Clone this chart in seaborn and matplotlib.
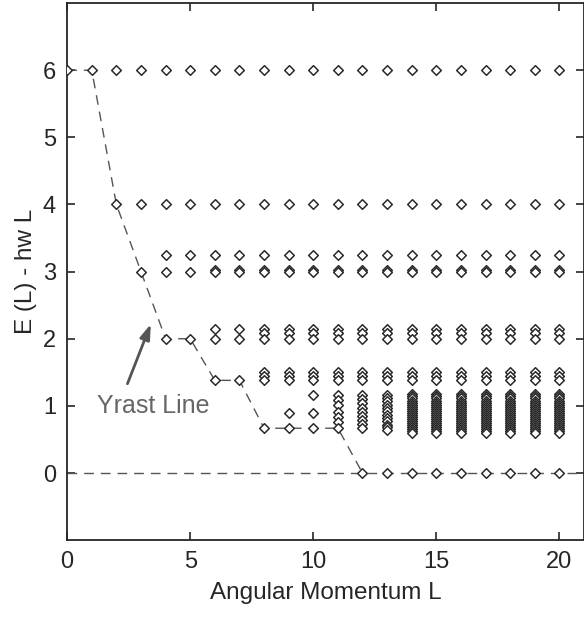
import numpy as np
import pandas as pd
import matplotlib
matplotlib.use("Agg")
import matplotlib.pyplot as plt
import seaborn as sns

# --- datos: niveles de energía por momento angular L ---
medio = [6.0, 4.0, 3.25, 3.02, 3.0, 2.15, 2.08, 2.0, 1.5, 1.45, 1.38]
denso = [1.17, 1.14, 1.11, 1.08, 1.05, 1.02, 0.99, 0.96, 0.93, 0.9,
         0.87, 0.84, 0.81, 0.78, 0.75, 0.72, 0.69, 0.66, 0.63, 0.6]

niveles = {
    0: [6.0],
    1: [6.0],
    2: [6.0, 4.0],
    3: [6.0, 4.0, 3.0],
    4: [6.0, 4.0, 3.25, 3.0, 2.0],
    5: [6.0, 4.0, 3.25, 3.0, 2.0],
    6: [6.0, 4.0, 3.25, 3.02, 3.0, 2.15, 2.0, 1.38],
    7: [6.0, 4.0, 3.25, 3.02, 3.0, 2.15, 2.0, 1.38],
    8: medio + [0.667],
    9: medio + [0.9, 0.667],
    10: medio + [1.16, 0.9, 0.667],
    11: medio + [1.16, 1.09, 1.01, 0.91, 0.84, 0.76, 0.667],
    12: medio + [1.16, 1.1, 1.04, 0.97, 0.91, 0.85, 0.79, 0.73, 0.67, 0.0],
    13: medio + [1.16, 1.12, 1.07, 1.02, 0.97, 0.92, 0.87, 0.82, 0.77,
                 0.72, 0.68, 0.64, 0.0],
    14: medio + denso + [0.0],
    15: medio + denso + [0.0],
    16: medio + denso + [0.0],
    17: medio + denso + [0.0],
    18: medio + denso + [0.0],
    19: medio + denso + [0.0],
    20: medio + denso + [0.0],
}

# línea yrast
yrast_L = [0, 1, 2, 3, 4, 5, 6, 7, 8, 9, 10, 11, 12]
yrast_E = [6.0, 6.0, 4.0, 3.0, 2.0, 2.0, 1.38, 1.38, 0.667, 0.667, 0.667, 0.667, 0.0]

filas = [(L, E) for L, lista in niveles.items() for E in lista]
data = pd.DataFrame(filas, columns=["L", "E"])

# --- gráfico ---
sns.set_style("ticks")
plt.rcParams['font.family'] = ['Liberation Sans', 'DejaVu Sans']

fig = plt.figure(figsize=(5.84, 6.18), dpi=100)
ax = fig.add_axes([0.115, 0.126, 0.885, 0.869])

ax.axhline(0, color="#555555", lw=1, ls=(0, (7, 5)), zorder=1)
sns.lineplot(x=yrast_L, y=yrast_E, ax=ax, color="#555555", lw=1,
             linestyle=(0, (7, 5)), estimator=None, sort=False, zorder=1)
sns.scatterplot(data=data, x="L", y="E", ax=ax, marker="D", s=24,
                facecolor="white", edgecolor="#2a2a2a", linewidth=1.1, zorder=3)

# flecha y texto
ax.annotate("", xy=(3.4, 2.22), xytext=(2.45, 1.33),
            arrowprops=dict(arrowstyle="-|>,head_length=0.9,head_width=0.3",
                            color="#555555", lw=2, shrinkA=0, shrinkB=0))
ax.text(1.2, 1.0, "Yrast Line", fontsize=18, color="#666666",
        va="center", ha="left")

ax.set_xlim(0, 21)
ax.set_ylim(-1, 7)
ax.set_xticks([0, 5, 10, 15, 20])
ax.set_yticks([0, 1, 2, 3, 4, 5, 6])
ax.tick_params(direction="in", length=6, width=1.2, top=True, right=True,
               labelsize=17, pad=8)
for s in ax.spines.values():
    s.set_linewidth(1.3)
ax.set_xlabel("Angular Momentum L", fontsize=17.5, labelpad=6)
ax.set_ylabel("E (L) - hw L", fontsize=17.5, labelpad=4)

fig.savefig("out.png", dpi=100)
